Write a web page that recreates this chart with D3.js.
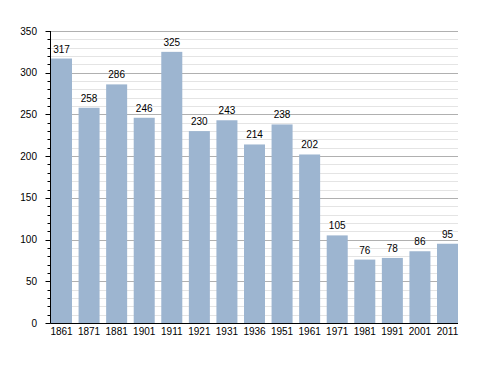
<!DOCTYPE html>
<html><head><meta charset="utf-8">
<script src="https://cdn.jsdelivr.net/npm/d3@7"></script>
<style>body{margin:0;background:#fff}svg text{font-family:"Liberation Sans",Arial,sans-serif;font-size:10px;fill:#000}</style>
</head><body><svg id="c" width="488" height="373"></svg>
<script>
const years = ["1861","1871","1881","1901","1911","1921","1931","1936","1951","1961","1971","1981","1991","2001","2011"];
const population = [317,258,286,246,325,230,243,214,238,202,105,76,78,86,95];
const yTicks = [0,50,100,150,200,250,300,350];

const svg = d3.select("#c");
const mLeft = 50.5, mRight = 458, mTop = 31, mBottom = 323;
const y = d3.scaleLinear().domain([0,350]).range([mBottom, mTop]);
const x = d3.scaleBand().domain(years).range([51, mRight]).paddingInner(0.238).paddingOuter(0).align(0);

// minor grid
svg.append("g").selectAll("line").data(d3.range(10,350,10).filter(v=>v%50!==0)).join("line")
  .attr("x1",mLeft).attr("x2",mRight).attr("y1",d=>Math.round(y(d))+0.5).attr("y2",d=>Math.round(y(d))+0.5)
  .attr("stroke","#e4e4e4").attr("stroke-width",1);
// major grid
svg.append("g").selectAll("line").data(yTicks.filter(v=>v>0)).join("line")
  .attr("x1",mLeft).attr("x2",mRight).attr("y1",d=>Math.round(y(d))+0.5).attr("y2",d=>Math.round(y(d))+0.5)
  .attr("stroke","#b0b0b0").attr("stroke-width",1);

// bars
svg.append("g").selectAll("rect").data(population).join("rect")
  .attr("x",(d,i)=>x(years[i])).attr("width",x.bandwidth())
  .attr("y",d=>y(d)).attr("height",d=>mBottom-y(d))
  .attr("fill","#9db5d0");

// value labels
svg.append("g").selectAll("text").data(population).join("text")
  .attr("x",(d,i)=>x(years[i])+x.bandwidth()/2).attr("y",d=>y(d)-6)
  .attr("text-anchor","middle").text(d=>d);

// y axis ticks
svg.append("g").selectAll("line").data(d3.range(0,351,10)).join("line")
  .attr("x1",d=>d%50===0?mLeft-5:mLeft-3).attr("x2",mLeft)
  .attr("y1",d=>Math.round(y(d))+0.5).attr("y2",d=>Math.round(y(d))+0.5)
  .attr("stroke","#000");
svg.append("line").attr("x1",mLeft).attr("x2",mLeft).attr("y1",mTop).attr("y2",mBottom+0.5).attr("stroke","#000");
svg.append("line").attr("x1",mLeft).attr("x2",mRight).attr("y1",mBottom+0.5).attr("y2",mBottom+0.5).attr("stroke","#000");

// y labels
svg.append("g").selectAll("text").data(yTicks).join("text")
  .attr("x",37).attr("y",d=>y(d)+3.5).attr("text-anchor","end").text(d=>d);

// x labels
svg.append("g").selectAll("text").data(years).join("text")
  .attr("x",d=>x(d)+x.bandwidth()/2).attr("y",mBottom+12)
  .attr("text-anchor","middle").text(d=>d);
</script></body></html>
